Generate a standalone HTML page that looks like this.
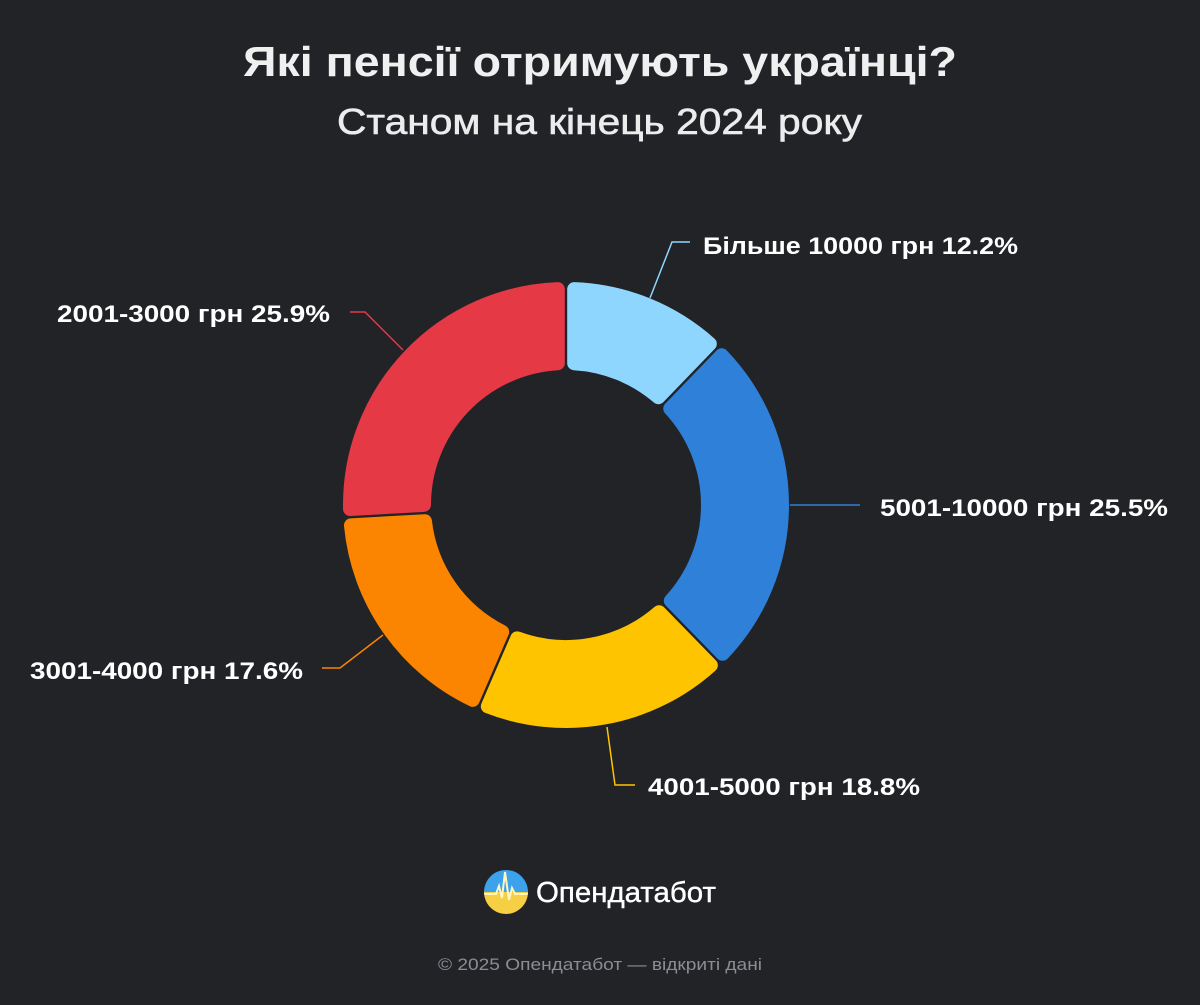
<!DOCTYPE html>
<html><head><meta charset="utf-8"><style>
html,body{margin:0;padding:0;background:#212327;}
body{width:1200px;height:1000px;overflow:hidden;font-family:"Liberation Sans","DejaVu Sans",sans-serif;}
</style></head><body>
<svg id="s" width="1200" height="1000" xmlns="http://www.w3.org/2000/svg">
<rect width="1200" height="1000" fill="#212327"/>
<text x="243" y="76" font-size="42" font-weight="bold" fill="#f0f0f0" textLength="714" lengthAdjust="spacingAndGlyphs" font-family="Liberation Sans, sans-serif">Які пенсії отримують українці?</text>
<text x="337" y="134" font-size="36" fill="#ececec" stroke="#ececec" stroke-width="0.6" textLength="525" lengthAdjust="spacingAndGlyphs" font-family="Liberation Sans, sans-serif">Станом на кінець 2024 року</text>
<g id="donut"></g>
<g fill="none" stroke-width="1.5">
<polyline points="650,298 672,242 690,242" stroke="#8fd6ff"/>
<polyline points="790,505 860,505" stroke="#2f80d8"/>
<polyline points="607,727 615,785 635,785" stroke="#ffc400"/>
<polyline points="383,635 340,668 322,668" stroke="#fb8500"/>
<polyline points="403,350 365,312 350,312" stroke="#e63946"/>
</g>
<g font-size="24" font-weight="bold" fill="#ffffff" font-family="Liberation Sans, sans-serif" lengthAdjust="spacingAndGlyphs">
<text x="703" y="254" textLength="315" lengthAdjust="spacingAndGlyphs">Більше 10000 грн 12.2%</text>
<text x="880" y="516" textLength="288" lengthAdjust="spacingAndGlyphs">5001-10000 грн 25.5%</text>
<text x="648" y="795" textLength="272" lengthAdjust="spacingAndGlyphs">4001-5000 грн 18.8%</text>
<text x="30" y="679" textLength="273" lengthAdjust="spacingAndGlyphs">3001-4000 грн 17.6%</text>
<text x="57" y="322" textLength="273" lengthAdjust="spacingAndGlyphs">2001-3000 грн 25.9%</text>
</g>
<defs><clipPath id="lc"><circle cx="506" cy="892" r="22"/></clipPath></defs>
<g clip-path="url(#lc)">
<rect x="484" y="870" width="44" height="24" fill="#3da2ec"/>
<rect x="484" y="892" width="44" height="24" fill="#f6cf45"/>
<polyline points="484,894 496,894 499,886 502,898 505,872 509,900 512,888 515,894 528,894" fill="none" stroke="#fff7c0" stroke-width="2"/>
</g>
<text x="536" y="902" font-size="29" fill="#ffffff" stroke="#ffffff" stroke-width="0.4" textLength="180" lengthAdjust="spacingAndGlyphs" font-family="Liberation Sans, sans-serif">Опендатабот</text>
<text x="438" y="970" font-size="17" fill="#8a8d92" textLength="324" lengthAdjust="spacingAndGlyphs" font-family="Liberation Sans, sans-serif">© 2025 Опендатабот — відкриті дані</text>
</svg>
<script>
var cx=566,cy=505,R=223,r=135,sw=14,h=sw/2,g=1.2;
var data=[[12.2,"#8fd6ff"],[25.5,"#2f80d8"],[18.8,"#ffc400"],[17.6,"#fb8500"],[25.9,"#e63946"]];
var a=0,out="";
function pt(rad,ang){return [cx+rad*Math.sin(ang),cy-rad*Math.cos(ang)];}
data.forEach(function(d){
 var a0=a*Math.PI*2/100,a1=(a+d[0])*Math.PI*2/100;a+=d[0];
 var Ro=R-h,Ri=r+h,off=h+g;
 var o0=a0+Math.asin(off/Ro),o1=a1-Math.asin(off/Ro);
 var i0=a0+Math.asin(off/Ri),i1=a1-Math.asin(off/Ri);
 var p1=pt(Ro,o0),p2=pt(Ro,o1),p3=pt(Ri,i1),p4=pt(Ri,i0);
 var lg=(o1-o0)>Math.PI?1:0,lgi=(i1-i0)>Math.PI?1:0;
 out+='<path d="M'+p1+' A'+Ro+','+Ro+' 0 '+lg+' 1 '+p2+' L'+p3+' A'+Ri+','+Ri+' 0 '+lgi+' 0 '+p4+' Z" fill="'+d[1]+'" stroke="'+d[1]+'" stroke-width="'+sw+'" stroke-linejoin="round"/>';
});
document.getElementById("donut").innerHTML=out;
</script>
</body></html>
